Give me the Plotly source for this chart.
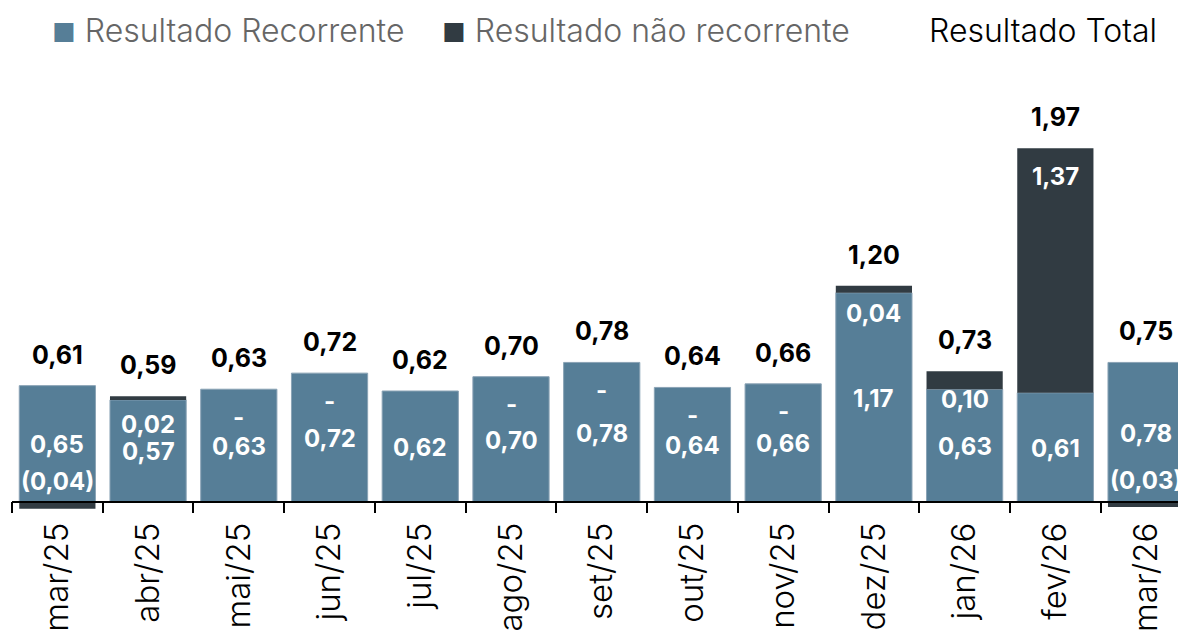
import plotly.graph_objects as go

categories = ["mar/25", "abr/25", "mai/25", "jun/25", "jul/25", "ago/25", "set/25",
              "out/25", "nov/25", "dez/25", "jan/26", "fev/26", "mar/26"]
recorrente = [0.65, 0.57, 0.63, 0.72, 0.62, 0.70, 0.78, 0.64, 0.66, 1.17, 0.63, 0.61, 0.78]
nao_recorrente = [-0.04, 0.02, 0.0, 0.0, None, 0.0, 0.0, 0.0, 0.0, 0.04, 0.10, 1.37, -0.03]
total = [0.61, 0.59, 0.63, 0.72, 0.62, 0.70, 0.78, 0.64, 0.66, 1.20, 0.73, 1.97, 0.75]

C_REC = "#567e97"
C_NREC = "#313b42"
LABEL_FONT = "Inter"
AXIS_FONT = "Inter"


def fmt(v):
    if v is None:
        return ""
    if v == 0:
        return "-"
    s = f"{abs(v):.2f}".replace(".", ",")
    return f"({s})" if v < 0 else s


fig = go.Figure()
fig.add_trace(go.Bar(x=categories, y=recorrente, name="Resultado Recorrente",
                     marker=dict(color=C_REC, line=dict(color="#8aa3b5", width=1)),
                     showlegend=False))
fig.add_trace(go.Bar(x=categories, y=[v if v is not None else 0 for v in nao_recorrente],
                     name="Resultado não recorrente",
                     marker=dict(color=C_NREC, line=dict(width=0)), showlegend=False))

ymin, ymax = -0.08, 2.3
lab_font = dict(family=LABEL_FONT, size=25, weight=700)
in_font = dict(family=LABEL_FONT, size=24, weight=700, color="#ffffff")

ann = []
for c, r, n, t in zip(categories, recorrente, nao_recorrente, total):
    top = r + (n if (n is not None and n > 0) else 0)
    ann.append(dict(x=c, y=top, xref="x", yref="y", text=fmt(t), showarrow=False,
                    yanchor="middle", yshift=31, font=dict(lab_font, color="#000000")))
    ann.append(dict(x=c, y=r / 2, xref="x", yref="y", text=fmt(r), showarrow=False,
                    yanchor="middle", yshift=-1, font=in_font))
    if n is not None:
        if n < 0:
            ann.append(dict(x=c, y=n, xref="x", yref="y", text=fmt(n), showarrow=False,
                            yanchor="middle", yshift=27, font=in_font))
        else:
            ann.append(dict(x=c, y=top, xref="x", yref="y", text=fmt(n), showarrow=False,
                            yanchor="middle", yshift=-28, font=in_font))

LEG_Y = 61
leg_font = dict(family=AXIS_FONT, size=32, weight=300)
sq = "<span style='font-size:26px;color:{c}'>■</span>"
W, H = 1178, 627
L = 4
PW = W - L
ann.append(dict(x=(50 - 12) / PW, y=1, xref="paper", yref="paper", xanchor="left", yanchor="middle",
                yshift=LEG_Y, showarrow=False,
                text=sq.format(c=C_REC) + " Resultado Recorrente",
                font=dict(leg_font, color="#666666")))
ann.append(dict(x=(440 - 12) / PW, y=1, xref="paper", yref="paper", xanchor="left", yanchor="middle",
                yshift=LEG_Y, showarrow=False,
                text=sq.format(c=C_NREC) + " Resultado não recorrente",
                font=dict(leg_font, color="#666666")))
ann.append(dict(x=(1159 - 12) / PW, y=1, xref="paper", yref="paper", xanchor="right", yanchor="middle",
                yshift=LEG_Y, showarrow=False, text="Resultado Total",
                font=dict(leg_font, color="#000000")))

fig.update_layout(
    template="none",
    width=W, height=H,
    margin=dict(l=L, r=0, t=83, b=119),
    paper_bgcolor="white", plot_bgcolor="white",
    barmode="relative", bargap=0.16,
    showlegend=False,
    annotations=ann,
    xaxis=dict(type="category", range=[-0.5, 12.44], tickson="boundaries", ticks="outside", ticklen=11,
               tickcolor="#000000", tickwidth=1.5, showline=True, linecolor="#000000", linewidth=1.5,
               tickangle=-90, anchor="free", position=(0 - ymin) / (ymax - ymin), automargin=False,
               ticklabelstandoff=7,
               tickfont=dict(family=AXIS_FONT, size=33, color="#000000", weight=300),
               showgrid=False, zeroline=False),
    yaxis=dict(range=[ymin, ymax], visible=False, showgrid=False, zeroline=False, automargin=False),
)

fig.write_html("out.html")
